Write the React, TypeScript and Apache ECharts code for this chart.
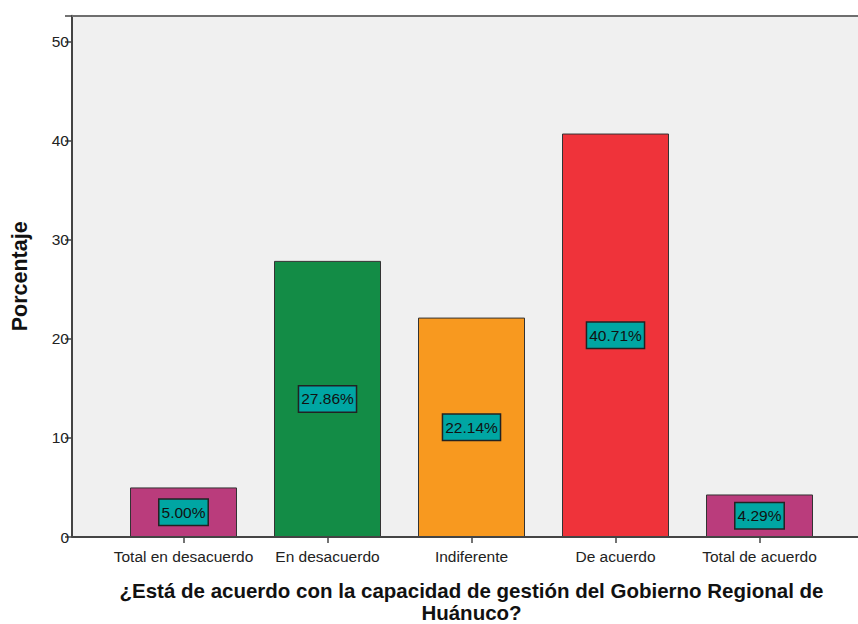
import React, { useEffect, useRef } from "react";
import * as echarts from "echarts";

const categories = ["Total en desacuerdo", "En desacuerdo", "Indiferente", "De acuerdo", "Total de acuerdo"];
const values = [5.0, 27.86, 22.14, 40.71, 4.29];
const barColors = ["#BA3C7C", "#138C46", "#F8991F", "#EF333A", "#BA3C7C"];
const yTicks = { min: 0, max: 52.6, interval: 10 };
const xTitle = "¿Está de acuerdo con la capacidad de gestión del Gobierno Regional de\nHuánuco?";
const yTitle = "Porcentaje";

export default function App() {
  const ref = useRef<HTMLDivElement>(null);
  useEffect(() => {
    document.body.style.margin = "0";
    const chart = echarts.init(ref.current!, undefined, { renderer: "svg" });
    const font = "'Liberation Sans', Arial, sans-serif";
    chart.setOption({
      animation: false,
      backgroundColor: "#ffffff",
      textStyle: { fontFamily: font },
      grid: { left: 111.5, right: 26.5, top: 15.7, bottom: 87, containLabel: false, outerBoundsMode: "none" },
      graphic: [
        { type: "rect", z: -10, shape: { x: 72, y: 16, width: 786, height: 521 }, style: { fill: "#F0F0F0" } },
        { type: "line", z: 10, shape: { x1: 72, y1: 16, x2: 858, y2: 16 }, style: { stroke: "#6E6E6E", lineWidth: 2 } },
        { type: "line", z: 10, shape: { x1: 72, y1: 537, x2: 858, y2: 537 }, style: { stroke: "#444444", lineWidth: 2 } },
      ],
      xAxis: {
        type: "category",
        data: categories,
        axisLine: { show: false },
        axisTick: { show: true, alignWithLabel: true, length: 6, lineStyle: { color: "#444", width: 1.5 } },
        axisLabel: { color: "#222", fontSize: 15.5, margin: 11, fontFamily: font, interval: 0 },
        name: xTitle,
        nameLocation: "middle",
        nameGap: 42,
        nameTextStyle: { fontSize: 20.5, fontWeight: "bold", color: "#111", lineHeight: 22, fontFamily: font },
      },
      yAxis: {
        type: "value",
        min: yTicks.min,
        max: yTicks.max,
        interval: yTicks.interval,
        offset: 39.5,
        splitLine: { show: false },
        axisLine: { show: true, lineStyle: { color: "#444", width: 2 } },
        axisTick: { show: true, length: 7, lineStyle: { color: "#444", width: 1.5 } },
        axisLabel: {
          color: "#222",
          fontSize: 15.5,
          margin: 3,
          fontFamily: font,
          formatter: (v: number) => (v % 10 === 0 ? String(v) : ""),
        },
        name: yTitle,
        nameLocation: "middle",
        nameGap: 41,
        nameTextStyle: { fontSize: 21.5, fontWeight: "bold", color: "#111", fontFamily: font },
      },
      series: [
        {
          type: "bar",
          barWidth: 107,
          data: values.map((v, i) => ({
            value: v,
            itemStyle: { color: barColors[i], borderColor: "#333", borderWidth: 1 },
          })),
          label: {
            show: true,
            position: "inside",
            formatter: (p: any) => p.value.toFixed(2) + "%",
            fontSize: 15.5,
            color: "#111",
            fontFamily: font,
            backgroundColor: "#00A6A3",
            borderColor: "#222",
            borderWidth: 1.5,
            padding: [5, 2, 4, 2],
          },
        },
      ],
    });
    return () => chart.dispose();
  }, []);
  return <div ref={ref} style={{ width: 858, height: 624 }} />;
}
